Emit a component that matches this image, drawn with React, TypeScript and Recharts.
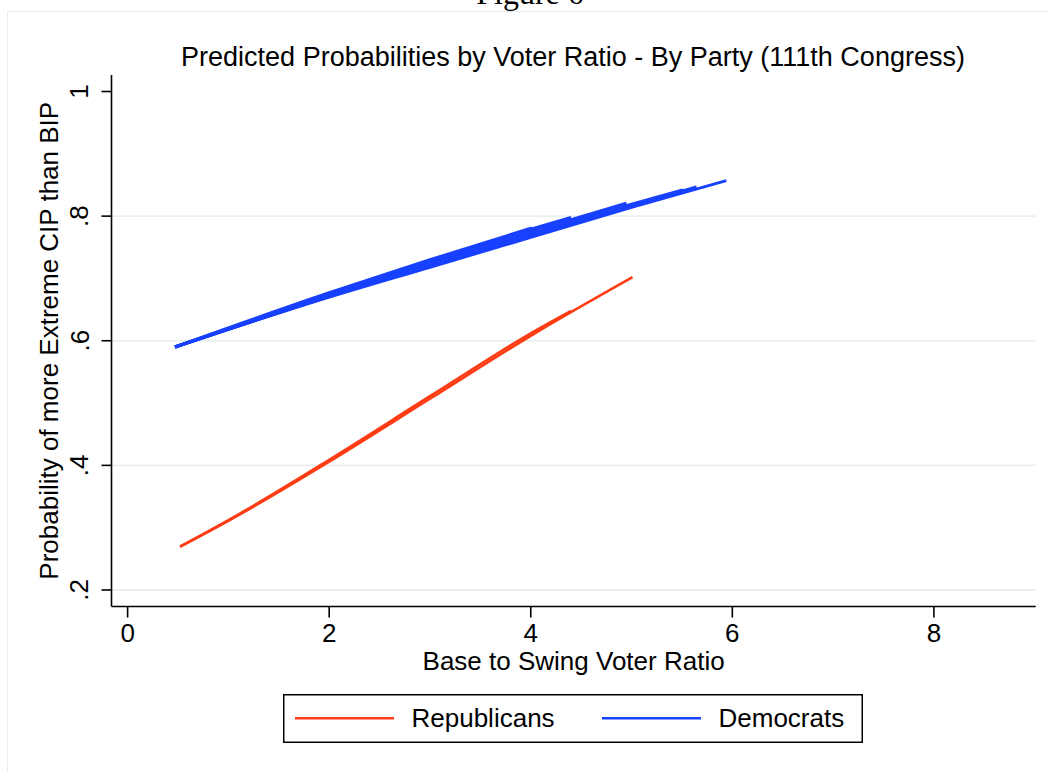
import React from 'react';
import { LineChart, Line, XAxis, YAxis, ReferenceLine, Legend, Label } from 'recharts';

const FONT = '"Liberation Sans", Arial, Helvetica, sans-serif';
const SERIF = '"Liberation Serif", "DejaVu Serif", serif';

const captionText = 'Figure 6';
const chartTitle = 'Predicted Probabilities by Voter Ratio - By Party (111th Congress)';
const xTitle = 'Base to Swing Voter Ratio';
const yTitle = 'Probability of more Extreme CIP than BIP';

const xTicks = [0, 2, 4, 6, 8];
const xTickLabels = ['0', '2', '4', '6', '8'];
const yTicks = [0.2, 0.4, 0.6, 0.8, 1];
const yTickLabels = ['.2', '.4', '.6', '.8', '1'];
const gridLevels = [0.2, 0.4, 0.6, 0.8];

// Predicted probability traces, as [voter ratio, probability] pairs
const repTraceA: [number, number][] = [[0.52, 0.2695], [1, 0.311], [2, 0.406], [3, 0.507], [4, 0.608], [5.01, 0.702]];
const repTraceB: [number, number][] = [[0.52, 0.2695], [1, 0.312], [2, 0.409], [3, 0.511], [4, 0.612], [4.40, 0.648]];

const demTraceA: [number, number][] = [[0.47, 0.590], [2, 0.670], [3, 0.718], [4, 0.766], [5, 0.814], [5.94, 0.857]];
const demTraceB: [number, number][] = [[0.47, 0.590], [2, 0.671], [3, 0.721], [4, 0.769], [5, 0.817], [5.645, 0.847]];
const demTraceC: [number, number][] = [[0.47, 0.590], [2, 0.672], [3, 0.722], [4, 0.771], [5, 0.819], [5.51, 0.842]];
const demTraceD: [number, number][] = [[0.47, 0.590], [2, 0.673], [3, 0.725], [4, 0.775], [4.95, 0.821]];
const demTraceE: [number, number][] = [[0.47, 0.590], [2, 0.675], [3, 0.728], [4, 0.779], [4.40, 0.798]];
const demTraceF: [number, number][] = [[0.47, 0.590], [2, 0.677], [3, 0.730], [4.01, 0.781]];

const partyNames = ['Republicans', 'Democrats'];
const partyColors = ['#ff3c14', '#1740ff'];
const partyTraces = [
  [repTraceA, repTraceB],
  [demTraceA, demTraceB, demTraceC, demTraceD, demTraceE, demTraceF],
];

const toPoints = (trace: [number, number][]) => trace.map(([x, y]) => ({ x, y }));

const YTick = (props: any) => {
  const { x, y, payload } = props;
  const i = yTicks.indexOf(payload.value);
  return (
    <text
      x={x}
      y={y}
      transform={`rotate(-90 ${x} ${y})`}
      textAnchor="middle"
      fontFamily={FONT}
      fontSize={26}
      fill="#000"
    >
      {i >= 0 ? yTickLabels[i] : payload.value}
    </text>
  );
};

const XTick = (props: any) => {
  const { x, y, payload } = props;
  const i = xTicks.indexOf(payload.value);
  return (
    <text x={x} y={y} dy={24} textAnchor="middle" fontFamily={FONT} fontSize={26} fill="#000">
      {i >= 0 ? xTickLabels[i] : payload.value}
    </text>
  );
};

const YTitle = (props: any) => {
  const vb = props.viewBox || {};
  const cx = vb.x + 6;
  const cy = vb.y + vb.height / 2;
  return (
    <text
      x={cx}
      y={cy}
      transform={`rotate(-90 ${cx} ${cy})`}
      textAnchor="middle"
      fontFamily={FONT}
      fontSize={26}
      fill="#000"
    >
      {yTitle}
    </text>
  );
};

const XTitle = (props: any) => {
  const vb = props.viewBox || {};
  return (
    <text
      x={vb.x + vb.width / 2}
      y={vb.y + 63}
      textAnchor="middle"
      fontFamily={FONT}
      fontSize={26}
      fill="#000"
    >
      {xTitle}
    </text>
  );
};

const LegendBox = (props: any) => {
  const payload = (props.payload || [])
    .filter((p: any) => p.type !== 'none' && partyNames.includes(p.value))
    .sort((a: any, b: any) => partyNames.indexOf(a.value) - partyNames.indexOf(b.value));
  return (
    <svg width={580} height={49} style={{ display: 'block' }}>
      <rect x={0.75} y={0.75} width={578.5} height={47.5} fill="#fff" stroke="#000" strokeWidth={1.5} />
      {payload.map((entry: any, i: number) => {
        const x0 = 12 + i * 307;
        return (
          <g key={entry.value}>
            <line x1={x0} x2={x0 + 99} y1={24.3} y2={24.3} stroke={entry.color} strokeWidth={2.5} />
            <text x={x0 + 116.5} y={32.7} fontFamily={FONT} fontSize={26} fill="#000">
              {entry.value}
            </text>
          </g>
        );
      })}
    </svg>
  );
};

export default function App() {
  return (
    <div
      style={{
        position: 'absolute',
        left: 0,
        top: 0,
        width: 1047,
        height: 772,
        background: '#fff',
        overflow: 'hidden',
      }}
    >
      <div
        style={{
          position: 'absolute',
          left: 7,
          top: 11,
          width: 1100,
          height: 820,
          border: '1.5px solid #e6edef',
          boxSizing: 'border-box',
        }}
      />
      <svg width={1047} height={772} style={{ position: 'absolute', left: 0, top: 0 }}>
        <text x={530} y={4} textAnchor="middle" fontFamily={SERIF} fontSize={32} fill="#000">
          {captionText}
        </text>
        <text x={573} y={66} textAnchor="middle" fontFamily={FONT} fontSize={27} fill="#000">
          {chartTitle}
        </text>
      </svg>
      <div style={{ position: 'absolute', left: 0, top: 0 }}>
        <LineChart width={1047} height={772} margin={{ top: 75, right: 11.3, bottom: 135.5, left: 51.5 }}>
          <XAxis
            type="number"
            dataKey="x"
            domain={[-0.16, 9.01]}
            allowDataOverflow
            ticks={xTicks}
            interval={0}
            height={30}
            tickSize={11}
            tickMargin={0}
            tick={<XTick />}
            axisLine={{ stroke: '#000', strokeWidth: 1.6 }}
            tickLine={{ stroke: '#000', strokeWidth: 1.6 }}
          >
            <Label content={<XTitle />} />
          </XAxis>
          <YAxis
            type="number"
            dataKey="y"
            domain={[0.1735, 1.0265]}
            allowDataOverflow
            ticks={yTicks}
            interval={0}
            width={60}
            tickSize={10}
            tickMargin={13}
            tick={<YTick />}
            axisLine={{ stroke: '#000', strokeWidth: 1.6 }}
            tickLine={{ stroke: '#000', strokeWidth: 1.6 }}
          >
            <Label content={<YTitle />} />
          </YAxis>
          {gridLevels.map((v) => (
            <ReferenceLine key={v} y={v} stroke="#e8f0f0" strokeWidth={1.8} />
          ))}
          {partyTraces.flatMap((traces, p) =>
            traces.map((trace, i) => (
              <Line
                key={`${partyNames[p]}-${i}`}
                data={toPoints(trace)}
                dataKey="y"
                name={partyNames[p]}
                type="monotone"
                stroke={partyColors[p]}
                strokeWidth={p === 1 ? 3 : 2.6}
                dot={false}
                activeDot={false}
                legendType={i === 0 ? 'line' : 'none'}
                isAnimationActive={false}
              />
            ))
          )}
          <Legend
            layout="horizontal"
            verticalAlign="middle"
            align="center"
            content={<LegendBox />}
            wrapperStyle={{ left: 283, top: 694, width: 580, height: 49 }}
          />
        </LineChart>
      </div>
    </div>
  );
}
